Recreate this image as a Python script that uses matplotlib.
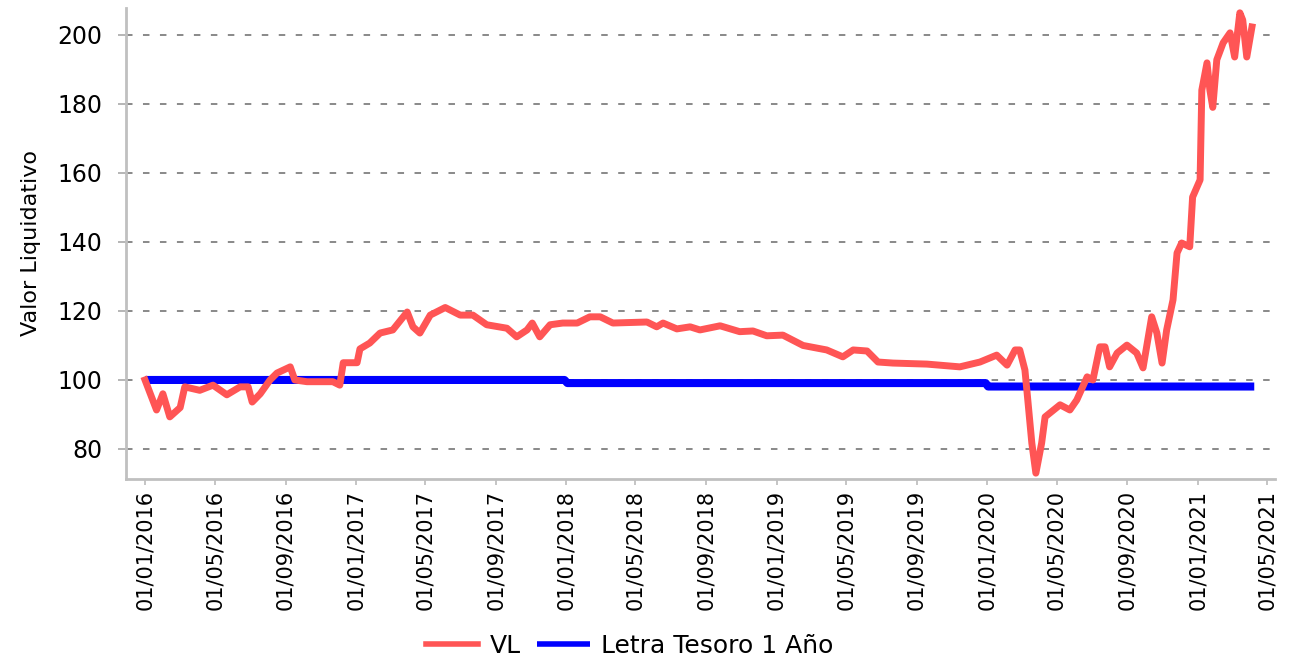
import matplotlib.pyplot as plt
import pandas as pd

# valor liquidativo (VL)
vl_dates = [
    "2016-01-01", "2016-01-21", "2016-02-01", "2016-02-13", "2016-03-02", "2016-03-10",
    "2016-04-05", "2016-04-28", "2016-05-22", "2016-06-14", "2016-06-28", "2016-07-05",
    "2016-07-19", "2016-08-05", "2016-08-17", "2016-09-09", "2016-09-17", "2016-10-08",
    "2016-11-22", "2016-12-04", "2016-12-10", "2017-01-03", "2017-01-08", "2017-01-25",
    "2017-02-12", "2017-03-06", "2017-03-31", "2017-04-10", "2017-04-22", "2017-05-10",
    "2017-06-05", "2017-07-01", "2017-07-23", "2017-08-16", "2017-09-20", "2017-10-07",
    "2017-10-25", "2017-11-03", "2017-11-16", "2017-12-04", "2017-12-26", "2018-01-20",
    "2018-02-11", "2018-03-01", "2018-03-23", "2018-05-21", "2018-06-07", "2018-06-18",
    "2018-07-12", "2018-08-04", "2018-08-21", "2018-09-25", "2018-10-29", "2018-11-21",
    "2018-12-15", "2019-01-12", "2019-02-16", "2019-03-29", "2019-04-26", "2019-05-14",
    "2019-06-07", "2019-06-26", "2019-07-22", "2019-09-19", "2019-11-15", "2019-12-20",
    "2020-01-18", "2020-02-05", "2020-02-19", "2020-02-27", "2020-03-07", "2020-03-12",
    "2020-03-19", "2020-03-26", "2020-04-05", "2020-04-11", "2020-05-07", "2020-05-24",
    "2020-06-05", "2020-06-23", "2020-07-03", "2020-07-15", "2020-07-24", "2020-08-01",
    "2020-08-14", "2020-08-31", "2020-09-17", "2020-09-28", "2020-10-13", "2020-10-22",
    "2020-10-31", "2020-11-08", "2020-11-19", "2020-11-26", "2020-12-04", "2020-12-18",
    "2020-12-23", "2021-01-05", "2021-01-08", "2021-01-17", "2021-01-22", "2021-01-27",
    "2021-02-03", "2021-02-14", "2021-02-26", "2021-03-06", "2021-03-15", "2021-03-20",
    "2021-03-27", "2021-04-05",
]
vl_values = [
    100, 91.3, 96, 89.3, 92, 98,
    97, 98.5, 95.7, 98, 98, 93.6,
    96, 100, 102, 103.8, 100, 99.5,
    99.5, 98.5, 105, 105, 109, 110.7,
    113.6, 114.5, 119.7, 115.4, 113.6, 118.8,
    121, 118.8, 118.8, 116, 115, 112.5,
    114.5, 116.5, 112.5, 116, 116.5, 116.5,
    118.3, 118.3, 116.5, 116.8, 115.4, 116.5,
    114.8, 115.4, 114.5, 115.7, 114, 114.2,
    112.8, 113, 110, 108.7, 106.7, 108.7,
    108.4, 105.2, 104.9, 104.6, 103.8, 105.2,
    107.2, 104.3, 108.7, 108.7, 102.9, 94.2,
    81.7, 73, 81.7, 89.3, 92.8, 91.3,
    94.2, 100.9, 100, 109.6, 109.6, 103.8,
    107.8, 110.1, 107.8, 103.5, 118.3, 113.6,
    104.9, 114.5, 123.2, 136.8, 139.7, 138.6,
    153, 158, 184, 191.9, 184, 179,
    192.8, 197.7, 200.6, 193.6, 206.4, 204.3,
    193.6, 202.3,
]

# Letra del Tesoro 1 año
letra_dates = ["2016-01-01", "2017-12-29", "2018-01-03", "2019-12-30", "2020-01-03", "2021-04-09"]
letra_values = [100, 100, 99.1, 99.1, 98.1, 98.1]

tick_dates = pd.date_range("2016-01-01", "2021-05-01", freq="4MS")

fig = plt.figure(figsize=(12.9, 6.62), dpi=100, facecolor="white")
ax = fig.add_axes([126 / 1290, 1 - 479 / 662, (1275 - 126) / 1290, (479 - 8) / 662])
ax.set_facecolor("white")

ax.plot(pd.to_datetime(letra_dates), letra_values, color="#0000ff", linewidth=5.8,
        label="Letra Tesoro 1 Año", zorder=3, solid_capstyle="butt")
ax.plot(pd.to_datetime(vl_dates), vl_values, color="#ff5555", linewidth=5,
        label="VL", zorder=4)

ax.set_xlim(pd.Timestamp("2015-11-29"), pd.Timestamp("2021-05-15"))
ax.set_ylim(71.3, 207.8)
ax.set_yticks([80, 100, 120, 140, 160, 180, 200])
ax.set_xticks(tick_dates)
ax.set_xticklabels([d.strftime("%d/%m/%Y") for d in tick_dates], rotation=90, fontsize=15)
for lbl in ax.get_yticklabels():
    lbl.set_fontsize(17)

ax.grid(axis="y", color="#808080", linewidth=1.3, linestyle=(0, (3.6, 5.8)), zorder=1)
ax.tick_params(axis="y", length=6, color="#b0b0b0", width=1.3, pad=11)
ax.tick_params(axis="x", length=4, color="#c0c0c0", width=1.3, pad=4)

for side in ["top", "right"]:
    ax.spines[side].set_visible(False)
for side in ["left", "bottom"]:
    ax.spines[side].set_color("#c0c0c0")
    ax.spines[side].set_linewidth(2)

ax.set_ylabel("Valor Liquidativo", fontsize=16, labelpad=12)

handles, labels = ax.get_legend_handles_labels()
leg = fig.legend(handles[::-1], labels[::-1], loc="center", bbox_to_anchor=(0.488, 0.024),
                 ncol=2, frameon=False, fontsize=18, handlelength=2.1, handletextpad=0.45,
                 columnspacing=0.65, borderpad=0)
for line in leg.get_lines():
    line.set_linewidth(4)

fig.savefig("out.png", dpi=100, facecolor="white")
